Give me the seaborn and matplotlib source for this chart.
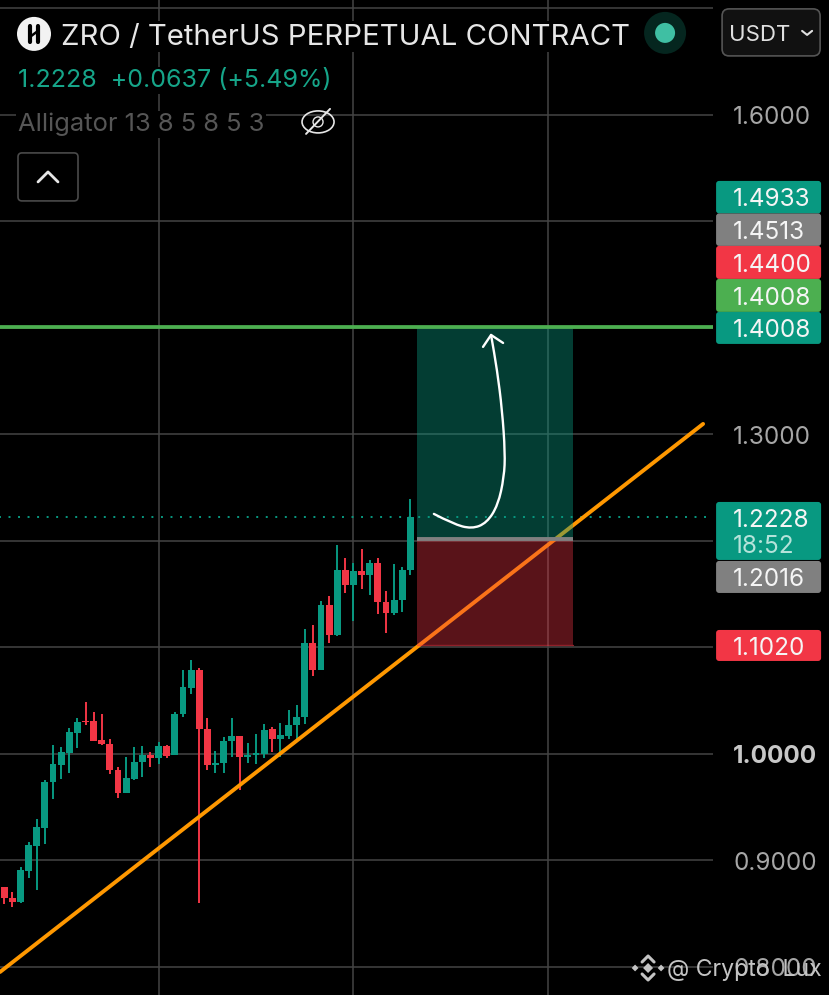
import matplotlib
matplotlib.use("Agg")
import matplotlib.pyplot as plt
import seaborn as sns
from matplotlib.patches import Circle, Ellipse, FancyBboxPatch, PathPatch, Rectangle
from matplotlib.path import Path
from matplotlib.transforms import blended_transform_factory

# candles
opens = [0.8751, 0.8651, 0.8607, 0.8904, 0.9139, 0.9308, 0.9740, 0.9896, 1.0009, 1.0200,
         1.0309, 1.0306, 1.0131, 1.0093, 0.9852, 0.9636, 0.9768, 0.9924, 0.9990, 0.9965,
         1.0075, 0.9990, 1.0375, 1.0622, 1.0788, 1.0237, 0.9893, 0.9915, 1.0125, 1.0166,
         0.9975, 0.9994, 0.9997, 1.0232, 1.0144, 1.0169, 1.0272, 1.0344, 1.1042, 1.0789,
         1.1402, 1.1114, 1.1725, 1.1584, 1.1718, 1.1678, 1.1794, 1.1427, 1.1324, 1.1443,
         1.1728]
highs = [0.8751, 0.8707, 0.8942, 0.9176, 0.9386, 0.9755, 1.0087, 1.0068, 1.0244, 1.0338,
         1.0491, 1.0394, 1.0375, 1.0140, 0.9874, 0.9971, 1.0068, 1.0075, 1.0015, 1.0109,
         1.0087, 1.0391, 1.0788, 1.0879, 1.0804, 1.0334, 1.0028, 1.0156, 1.0335, 1.0172,
         1.0100, 1.0185, 1.0279, 1.0257, 1.0288, 1.0413, 1.0460, 1.1171, 1.1211, 1.1437,
         1.1487, 1.1963, 1.1837, 1.1790, 1.1925, 1.1822, 1.1844, 1.1527, 1.1787, 1.1753,
         1.2391]
lows = [0.8588, 0.8566, 0.8600, 0.8838, 0.8722, 0.9154, 0.9577, 0.9765, 0.9818, 1.0059,
        1.0272, 1.0122, 1.0084, 0.9812, 0.9590, 0.9630, 0.9752, 0.9784, 0.9877, 0.9906,
        0.9965, 0.9990, 1.0344, 1.0563, 0.8604, 0.9849, 0.9818, 0.9818, 0.9975, 0.9662,
        0.9912, 0.9906, 0.9966, 1.0022, 0.9975, 1.0138, 1.0116, 1.0279, 1.0736, 1.0786,
        1.1045, 1.1108, 1.1515, 1.1252, 1.1546, 1.1490, 1.1318, 1.1133, 1.1305, 1.1337,
        1.1678]
closes = [0.8651, 0.8607, 0.8910, 0.9142, 0.9311, 0.9740, 0.9903, 1.0015, 1.0203, 1.0303,
          1.0297, 1.0125, 1.0090, 0.9852, 0.9636, 0.9774, 0.9924, 0.9990, 0.9965, 1.0075,
          0.9981, 1.0378, 1.0626, 1.0788, 1.0237, 0.9893, 0.9918, 1.0122, 1.0166, 0.9975,
          0.9991, 1.0009, 1.0225, 1.0144, 1.0178, 1.0269, 1.0347, 1.1042, 1.0786, 1.1402,
          1.1117, 1.1725, 1.1587, 1.1718, 1.1678, 1.1794, 1.1427, 1.1321, 1.1443, 1.1728,
          1.2222]

# drawings on the chart
trend_x = [-0.53, 86.05]
trend_y = [0.7953, 1.3099]
target_price = 1.4008
entry_price = 1.2016
stop_price = 1.1020
last_price = 1.2228
box_left = 50.8
box_right = 70.0
arrow_x = [52.9, 55.26, 57.56, 59.41, 60.8, 61.54, 61.67, 61.3, 60.68, 59.94]
arrow_y = [1.2254, 1.2160, 1.2113, 1.2169, 1.2338, 1.2601, 1.2826, 1.3230, 1.3606, 1.3934]
head_x = [58.95, 59.94, 61.42]
head_y = [1.3822, 1.3934, 1.3859]

# axis
grid_prices = [0.8, 0.9, 1.0, 1.1, 1.2, 1.3, 1.4, 1.5, 1.6, 1.7]
grid_times = [19, 43, 67]
tick_labels = ["1.6000", "1.3000", "1.0000", "0.9000", "0.8000"]
tick_prices = [1.6, 1.3, 1.0, 0.9, 0.8]

# price tags on the right
tag_texts = ["1.4933", "1.4513", "1.4400", "1.4008", "1.4008", "1.2016", "1.1020"]
tag_colors = ["#089981", "#808080", "#f23645", "#4caf50", "#089981", "#808080", "#f23645"]
tag_tops = [181, 213.5, 246, 279, 312, 561, 630]
tag_heights = [32.5, 32.5, 33, 33, 32, 32, 31]

GREEN = "#089981"
RED = "#f23645"
FONT = "Inter"
TAG_SIZE = 17.5

sns.set_style("darkgrid", {
    "axes.facecolor": "black",
    "figure.facecolor": "black",
    "grid.color": "#444444",
    "axes.edgecolor": "black",
})
plt.rcParams["font.family"] = [FONT, "DejaVu Sans"]
plt.rcParams["grid.linewidth"] = 1.1

fig = plt.figure(figsize=(8.291, 9.951), dpi=100)
ax = fig.add_axes([0, 0, 713 / 829, 1])

idx = list(range(len(opens)))
colors = [GREEN if c >= o else RED for o, c in zip(opens, closes)]
body_low = [min(o, c) for o, c in zip(opens, closes)]
body_size = [abs(c - o) for o, c in zip(opens, closes)]

ax.vlines(idx, lows, highs, colors=colors, linewidth=1.4, zorder=3)
ax.bar(idx, body_size, bottom=body_low, width=0.85, color=colors, linewidth=0, zorder=3)

sns.lineplot(x=trend_x, y=trend_y, ax=ax, color="#ff9800", linewidth=2.8, zorder=4)
sns.lineplot(x=[-1, 88], y=[target_price, target_price], ax=ax, color="#4caf50", linewidth=2.7, zorder=6)
sns.lineplot(x=[-1, 88], y=[last_price, last_price], ax=ax, color=GREEN, linewidth=1.4,
             linestyle=(0, (1, 3.9)), zorder=2)

# long position box
ax.add_patch(Rectangle((box_left, entry_price), box_right - box_left, target_price - entry_price,
                       facecolor=GREEN, alpha=0.4, linewidth=0, zorder=5))
ax.add_patch(Rectangle((box_left, stop_price), box_right - box_left, entry_price - stop_price,
                       facecolor=RED, alpha=0.37, linewidth=0, zorder=5))
ax.plot([box_left, box_right], [entry_price, entry_price], color="#808080", linewidth=2.8,
        zorder=6, solid_capstyle="butt")
ax.plot([box_left, box_right], [stop_price, stop_price], color=RED, linewidth=0.9, alpha=0.6, zorder=6)

# hand drawn arrow
verts = [(arrow_x[0], arrow_y[0])]
codes = [Path.MOVETO]
for i in range(1, len(arrow_x) - 1):
    verts.append((arrow_x[i], arrow_y[i]))
    verts.append(((arrow_x[i] + arrow_x[i + 1]) / 2, (arrow_y[i] + arrow_y[i + 1]) / 2))
    codes += [Path.CURVE3, Path.CURVE3]
verts.append((arrow_x[-1], arrow_y[-1]))
codes.append(Path.LINETO)
ax.add_patch(PathPatch(Path(verts, codes), facecolor="none", edgecolor="white", linewidth=1.7,
                       capstyle="round", zorder=7))
ax.plot(head_x, head_y, color="white", linewidth=1.7, zorder=7, solid_capstyle="round")

ax.set_xlim(-0.53, 87.28)
ax.set_ylim(0.77371, 1.70798)
ax.set_xticks(grid_times)
ax.set_yticks(grid_prices)
ax.tick_params(left=False, bottom=False, labelleft=False, labelbottom=False)
for s in ax.spines.values():
    s.set_visible(False)

# overlay in pixels for the app chrome
ui = fig.add_axes([0, 0, 1, 1])
ui.set_xlim(0, 829)
ui.set_ylim(995, 0)
ui.axis("off")
ui.patch.set_alpha(0)


def rounded(x, y, w, h, r, **kw):
    ui.add_patch(FancyBboxPatch((x, y), w, h, boxstyle=f"round,pad=0,rounding_size={r}", **kw))


bg = dict(facecolor="black", edgecolor="none", pad=1.5)

# logo and title
ui.add_patch(Circle((34, 34), 17, facecolor="#f2f2f2", linewidth=0))
ui.plot([30, 30], [26, 42], color="black", linewidth=3.0, solid_capstyle="round")
ui.plot([38, 38], [26, 42], color="black", linewidth=3.0, solid_capstyle="round")
ui.plot([30, 38], [37, 31], color="black", linewidth=1.8)
ui.text(61, 34, "ZRO / TetherUS PERPETUAL CONTRACT", color="#e6e6e6", fontsize=21.1,
        va="center_baseline", bbox=bg)
ui.text(18, 78, "1.2228  +0.0637 (+5.49%)", color="#16a589", fontsize=18.0,
        va="center_baseline", bbox=bg)
ui.text(18, 122, "Alligator 13 8 5 8 5 3", color="#565656", fontsize=18.4,
        va="center_baseline", bbox=bg)

# eye icon
ui.add_patch(Ellipse((318, 122), 32, 22, facecolor="none", edgecolor="#e6e6e6", linewidth=1.2))
ui.add_patch(Circle((318, 122), 5, facecolor="none", edgecolor="#e6e6e6", linewidth=1.0))
ui.plot([306, 330], [134, 109], color="#e6e6e6", linewidth=1.4)

# collapse button
rounded(18, 153, 60, 48, 4, facecolor="black", edgecolor="#4a4a4a", linewidth=1.2)
ui.plot([38, 48, 58], [182, 172, 182], color="#e6e6e6", linewidth=2.0)

# market status dot
ui.add_patch(Circle((665, 33), 21, facecolor="#05261f", linewidth=0))
ui.add_patch(Circle((665, 33), 10, facecolor="#3fbfa3", linewidth=0))

# currency button
rounded(722, 9, 98, 47, 7, facecolor="#111111", edgecolor="#555555", linewidth=1.2)
ui.text(729, 33, "USDT", color="#e0e0e0", fontsize=16.0, va="center_baseline")
ui.plot([802, 807, 812], [31, 35, 31], color="#e0e0e0", linewidth=1.5)

# axis labels stay on the price scale
tick_trans = blended_transform_factory(ui.transData, ax.transData)
for label, price in zip(tick_labels, tick_prices):
    strong = label == "1.0000"
    ui.text(733, price, label, transform=tick_trans, color="#c8c8c8" if strong else "#a6a6a6",
            fontsize=TAG_SIZE, va="center_baseline", fontweight="bold" if strong else "normal")

# tags
for text, color, top, height in zip(tag_texts, tag_colors, tag_tops, tag_heights):
    rounded(716, top, 105, height, 3, facecolor=color, linewidth=0)
    ui.text(733, top + height / 2, text, color="#f5f5f5", fontsize=TAG_SIZE, va="center_baseline")
rounded(716, 502, 105, 58, 3, facecolor=GREEN, linewidth=0)
ui.text(733, 518, f"{last_price:.4f}", color="#f5f5f5", fontsize=TAG_SIZE, va="center_baseline")
ui.text(733, 544, "18:52", color="#b5e3da", fontsize=TAG_SIZE, va="center_baseline")

# watermark
wm = "#c4c4c4"
ui.plot([642, 648, 654], [962, 956, 962], color=wm, linewidth=2.2)
ui.plot([642, 648, 654], [974, 980, 974], color=wm, linewidth=2.2)
ui.scatter([635, 648, 661], [968, 968, 968], marker="D", s=[12, 26, 12], color=wm, linewidth=0)
ui.text(667, 967, "@ Crypto  Lux", color=wm, fontsize=16.6, va="center_baseline")

fig.savefig("out.png", dpi=100, facecolor="black")
